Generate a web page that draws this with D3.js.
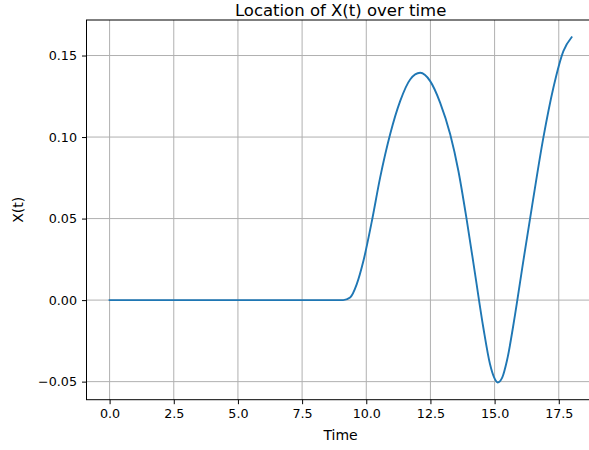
<!DOCTYPE html>
<html>
<head>
<meta charset="utf-8">
<script src="https://cdn.jsdelivr.net/npm/d3@7"></script>
<style>
  body { margin: 0; background: #fff; }
  svg { display: block; font-family: "DejaVu Sans", sans-serif; }
</style>
</head>
<body>
<svg></svg>
<script>
/* globals d3 */

const width = 589;
const height = 450;

// values
const timeValues = [0, 9.1, 9.37, 9.63, 9.89, 10.22, 10.54, 10.93, 11.32, 11.71, 12.10, 12.49,
  12.88, 13.27, 13.59, 13.92, 14.24, 14.56, 14.82, 14.98, 15.12, 15.30, 15.48, 15.80, 16.12,
  16.45, 16.90, 17.29, 17.68, 18.0];
const xValues = [0, 0, 0.0016, 0.0098, 0.0241, 0.0486, 0.0751, 0.1017, 0.1220, 0.1353, 0.1394, 0.1343,
  0.1210, 0.1017, 0.0792, 0.0486, 0.0159, -0.0168, -0.0392, -0.0474, -0.0505, -0.0474, -0.0372, -0.0086, 0.0241,
  0.0567, 0.0996, 0.1302, 0.1527, 0.1612];
const xTicks = [0, 2.5, 5, 7.5, 10, 12.5, 15, 17.5];
const yTicks = [-0.05, 0, 0.05, 0.10, 0.15];

const title = "Location of X(t) over time";
const xLabel = "Time";
const yLabel = "X(t)";

const marginLeft = 86.5;
const marginTop = 20;
const plotRight = 594.7;   // right spine falls just outside the picture
const plotBottom = 399.7;

const data = timeValues.map((t, i) => ({t: t, x: xValues[i]}));

// matplotlib style 5% padding around the data
function pad([a, b]) {
  const m = (b - a) * 0.05;
  return [a - m, b + m];
}

const xScale = d3.scaleLinear(pad(d3.extent(timeValues)), [marginLeft, plotRight]);
const yScale = d3.scaleLinear(pad(d3.extent(xValues)), [plotBottom, marginTop]);

const xAxis = d3.axisBottom(xScale).tickValues(xTicks).tickFormat(d3.format(".1f"))
    .tickSizeOuter(0).tickSize(4.5).tickPadding(5);
const yAxis = d3.axisLeft(yScale).tickValues(yTicks).tickFormat(d3.format(".2f"))
    .tickSizeOuter(0).tickSize(4.5).tickPadding(5);

const svg = d3.select("svg")
    .attr("width", width)
    .attr("height", height)
    .attr("viewBox", [0, 0, width, height]);

// grid
svg.append("g")
    .attr("stroke", "#b0b0b0")
    .attr("stroke-width", 1)
  .selectAll("line")
  .data(xTicks)
  .join("line")
    .attr("x1", d => xScale(d))
    .attr("x2", d => xScale(d))
    .attr("y1", marginTop)
    .attr("y2", plotBottom);

svg.append("g")
    .attr("stroke", "#b0b0b0")
    .attr("stroke-width", 1)
  .selectAll("line")
  .data(yTicks)
  .join("line")
    .attr("x1", marginLeft)
    .attr("x2", plotRight)
    .attr("y1", d => yScale(d))
    .attr("y2", d => yScale(d));

// the curve
const line = d3.line()
    .curve(d3.curveMonotoneX)
    .x(d => xScale(d.t))
    .y(d => yScale(d.x));

svg.append("path")
    .datum(data)
    .attr("fill", "none")
    .attr("stroke", "#1f77b4")
    .attr("stroke-width", 1.9)
    .attr("stroke-linejoin", "round")
    .attr("stroke-linecap", "square")
    .attr("d", line);

// frame
svg.append("rect")
    .attr("x", marginLeft)
    .attr("y", marginTop)
    .attr("width", plotRight - marginLeft)
    .attr("height", plotBottom - marginTop)
    .attr("fill", "none")
    .attr("stroke", "#000")
    .attr("stroke-width", 1);

svg.append("g")
    .attr("transform", `translate(0,${plotBottom})`)
    .call(xAxis)
    .call(g => g.select(".domain").remove())
    .call(g => g.selectAll(".tick line").attr("stroke", "#000"))
    .call(g => g.selectAll(".tick text")
        .attr("font-family", "DejaVu Sans")
        .attr("font-size", 12.7)
        .attr("fill", "#000"));

svg.append("g")
    .attr("transform", `translate(${marginLeft},0)`)
    .call(yAxis)
    .call(g => g.select(".domain").remove())
    .call(g => g.selectAll(".tick line").attr("stroke", "#000"))
    .call(g => g.selectAll(".tick text")
        .attr("font-family", "DejaVu Sans")
        .attr("font-size", 12.7)
        .attr("fill", "#000"));

// labels
svg.append("text")
    .attr("x", (marginLeft + plotRight) / 2)
    .attr("y", 440)
    .attr("text-anchor", "middle")
    .attr("font-size", 14)
    .attr("fill", "#000")
    .text(xLabel);

svg.append("text")
    .attr("transform", `translate(23,${(marginTop + plotBottom) / 2}) rotate(-90)`)
    .attr("text-anchor", "middle")
    .attr("font-size", 14)
    .attr("fill", "#000")
    .text(yLabel);

// title sits tight against the top edge, as in the reference
svg.append("text")
    .attr("x", (marginLeft + plotRight) / 2)
    .attr("y", 15.6)
    .attr("text-anchor", "middle")
    .attr("font-size", 16.5)
    .attr("fill", "#000")
    .text(title);
</script>
</body>
</html>
